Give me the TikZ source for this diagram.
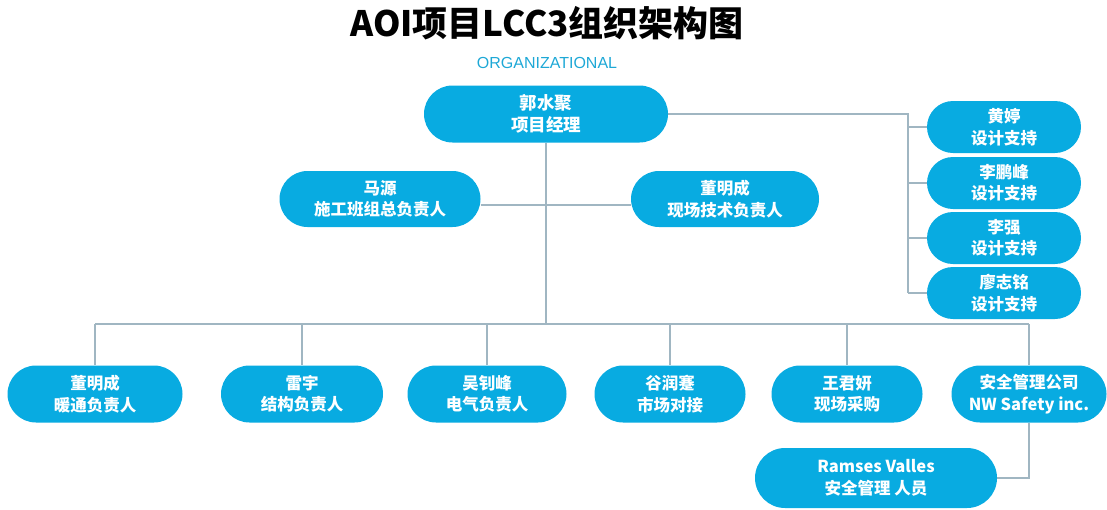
\documentclass[tikz,border=0pt]{standalone}
\usepackage{fontspec}
\setmainfont{Noto Sans CJK SC}
\newfontfamily\lat{Liberation Sans}
\usetikzlibrary{shapes.misc,backgrounds}
\definecolor{cy}{RGB}{8,171,225}
\definecolor{ln}{RGB}{160,182,194}
\definecolor{orgc}{RGB}{30,168,214}
\begin{document}
\begin{tikzpicture}[x=1pt,y=-1pt,
  pill/.style={rounded rectangle, fill=cy, text=white, align=center, inner sep=0pt,
    font=\bfseries\fontsize{16.5}{21.5}\selectfont, minimum height=57pt},
  conn/.style={draw=ln, line width=1.8pt}]
\useasboundingbox (0,0) rectangle (1107,509);
\node[font=\bfseries\fontsize{35}{38}\selectfont] (title) at (547,23) {AOI项目LCC3组织架构图};
\node[font=\lat\fontsize{16}{18}\selectfont, text=orgc] (org) at (547,63) {ORGANIZATIONAL};

\node[pill, minimum width=244pt, font=\bfseries\fontsize{17.5}{22}\selectfont] (pm) at (546,114) {郭水聚\\项目经理};
\node[pill, minimum width=201pt, minimum height=56pt] (my) at (380,199) {马源\\施工班组总负责人};
\node[pill, minimum width=188pt, minimum height=56pt] (dm) at (725,199) {董明成\\现场技术负责人};

\node[pill, minimum width=154pt, minimum height=52pt] (r1) at (1004,127) {黄婷\\设计支持};
\node[pill, minimum width=154pt, minimum height=52pt] (r2) at (1004,183) {李鹏峰\\设计支持};
\node[pill, minimum width=154pt, minimum height=52pt] (r3) at (1004,238) {李强\\设计支持};
\node[pill, minimum width=154pt, minimum height=52pt] (r4) at (1004,293) {廖志铭\\设计支持};

\node[pill, minimum width=175pt] (b1) at (95,394) {董明成\\暖通负责人};
\node[pill, minimum width=162pt] (b2) at (302,394) {雷宇\\结构负责人};
\node[pill, minimum width=159pt] (b3) at (487,394) {吴钊峰\\电气负责人};
\node[pill, minimum width=151pt] (b4) at (670,394) {谷润蹇\\市场对接};
\node[pill, minimum width=151pt] (b5) at (847,394) {王君妍\\现场采购};
\node[pill, minimum width=155pt] (b6) at (1029,394) {安全管理公司\\NW Safety inc.};
\node[pill, minimum width=242pt, minimum height=60pt] (rv) at (876,478) {Ramses Valles\\安全管理 人员};

\coordinate (busL) at (95,324);
\coordinate (busR) at (1029,324);
\coordinate (jc) at (546,324);
\coordinate (hm) at (546,205);
\coordinate (tr) at (908,114);
\coordinate (tb) at (908,293);

\begin{scope}[on background layer]
\draw[conn] (pm.south) -- (jc);
\draw[conn] (busL) -- (busR);
\draw[conn] (my.east |- hm) -- (dm.west |- hm);
\draw[conn] (pm.east) -- (tr) -- (tb);
\foreach \n in {r1,r2,r3,r4} \draw[conn] (\n.west -| tr) -- (\n.west);
\foreach \n in {b1,b2,b3,b4,b5,b6} \draw[conn] (\n.north |- busL) -- (\n.north);
\draw[conn] (b6.south) -- (b6.south |- rv.east) -- (rv.east);
\end{scope}
\end{tikzpicture}
\end{document}
